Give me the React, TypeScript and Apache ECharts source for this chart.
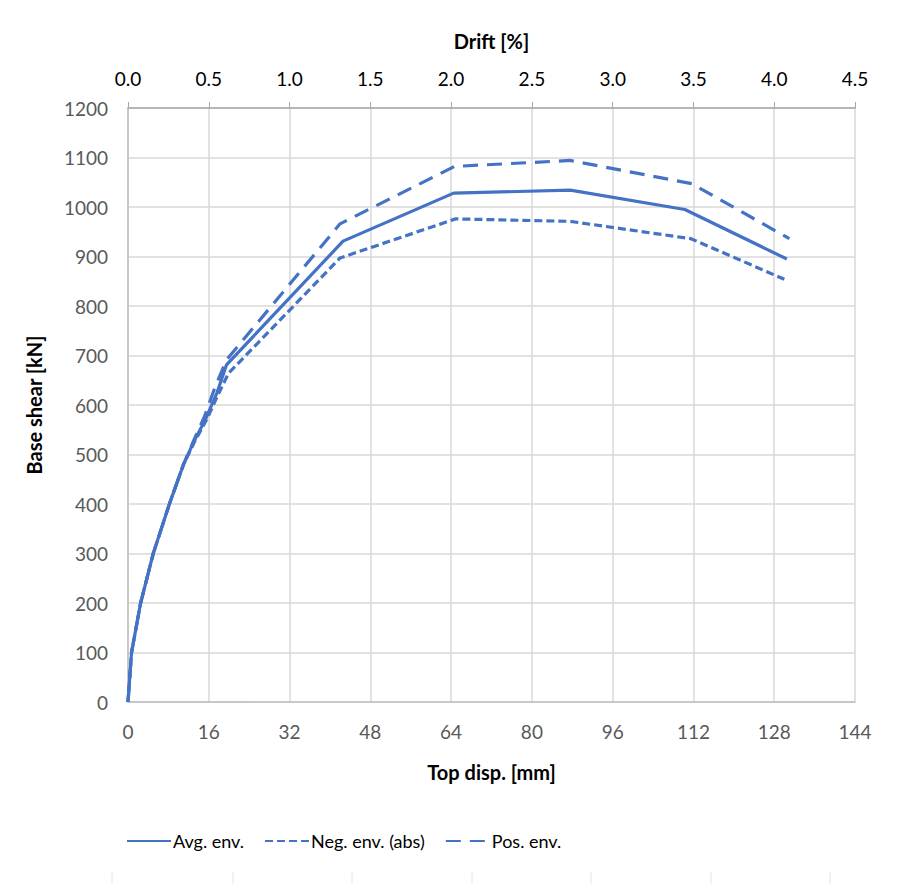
import React, { useEffect, useRef } from "react";
import * as echarts from "echarts";

const avgEnv: [number, number][] = [
  [0, 0], [0.7, 100], [2.5, 200], [5, 300], [8.2, 400], [11, 480], [13, 525],
  [15.3, 570], [17.6, 624], [19.5, 681], [42.6, 931], [64.5, 1028], [87.6, 1034],
  [110.3, 995], [130.5, 895],
];
const negEnv: [number, number][] = [
  [0, 0], [0.7, 100], [2.5, 200], [5, 300], [8.2, 400], [11, 480], [13, 522],
  [15.8, 575], [17.8, 620], [19.9, 664], [42, 897], [64.9, 976], [87.6, 971],
  [111.5, 936], [130, 854],
];
const posEnv: [number, number][] = [
  [0, 0], [0.7, 100], [2.5, 200], [5, 300], [8.2, 400], [11, 480], [13, 528],
  [15.2, 578], [17.2, 635], [19.5, 691], [42, 966], [64.7, 1082], [87.6, 1094],
  [111.7, 1047], [131, 936],
];
const seriesNames = ["Avg. env.", "Neg. env. (abs)", "Pos. env."];

const BLUE = "#4472C4";
const GRID = "#d9d9d9";
const FONT = "Lato, 'Noto Sans', sans-serif";

export default function App() {
  const ref = useRef<HTMLDivElement>(null);
  useEffect(() => {
    if (!ref.current) return;
    const chart = echarts.init(ref.current, null, { renderer: "svg" });
    const decoTicks = [112, 233, 352, 472, 591, 711, 830].map((x) => ({
      type: "line",
      shape: { x1: x, y1: 872, x2: x, y2: 884 },
      style: { stroke: "#e6e6e6", lineWidth: 1 },
    }));
    chart.setOption({
      animation: false,
      backgroundColor: "#ffffff",
      textStyle: { fontFamily: FONT },
      grid: { left: 128, right: 45, top: 108, bottom: 184 },
      legend: {
        data: seriesNames,
        top: 827,
        left: 121,
        itemWidth: 44,
        itemHeight: 14,
        itemGap: 20,
        itemStyle: { color: "transparent", borderWidth: 0 },
        textStyle: { fontSize: 18, color: "#000", fontFamily: FONT, padding: [0, 0, 0, -3] },
      },
      xAxis: [
        {
          type: "value",
          min: 0,
          max: 144,
          interval: 16,
          position: "bottom",
          name: "Top disp. [mm]",
          nameLocation: "middle",
          nameGap: 60,
          nameTextStyle: { fontSize: 20, fontWeight: "bold", color: "#000", fontFamily: FONT },
          axisLine: { show: true, lineStyle: { color: "#bfbfbf", width: 1.5 } },
          axisTick: { show: false },
          axisLabel: { fontSize: 19, color: "#595959", margin: 20, fontFamily: FONT },
          splitLine: { show: true, lineStyle: { color: GRID, width: 1.5 } },
        },
        {
          type: "value",
          min: 0,
          max: 4.5,
          interval: 0.5,
          position: "top",
          name: "Drift [%]",
          nameLocation: "middle",
          nameGap: 57,
          nameTextStyle: { fontSize: 20, fontWeight: "bold", color: "#000", fontFamily: FONT },
          axisLine: { show: true, onZero: false, lineStyle: { color: "#a6a6a6", width: 1.5 } },
          axisTick: { show: true, inside: false, length: 6, lineStyle: { color: "#a6a6a6" } },
          axisLabel: {
            fontSize: 19,
            color: "#000",
            margin: 20,
            fontFamily: FONT,
            formatter: (v: number) => v.toFixed(1),
          },
          splitLine: { show: false },
        },
      ],
      yAxis: {
        type: "value",
        min: 0,
        max: 1200,
        interval: 100,
        name: "Base shear [kN]",
        nameLocation: "middle",
        nameGap: 84,
        nameTextStyle: { fontSize: 20, fontWeight: "bold", color: "#000", fontFamily: FONT },
        axisLine: { show: true, lineStyle: { color: "#bfbfbf", width: 1.5 } },
        axisTick: { show: false },
        axisLabel: {
          fontSize: 19,
          color: "#595959",
          margin: 20,
          fontFamily: FONT,
          formatter: (v: number) => String(v),
        },
        splitLine: { show: true, lineStyle: { color: GRID, width: 1.5 } },
      },
      series: [
        {
          name: seriesNames[0],
          type: "line",
          xAxisIndex: 0,
          data: avgEnv,
          symbol: "none",
          lineStyle: { color: BLUE, width: 3.2 },
          itemStyle: { color: BLUE },
        },
        {
          name: seriesNames[1],
          type: "line",
          xAxisIndex: 0,
          data: negEnv,
          symbol: "none",
          lineStyle: { color: BLUE, width: 3.2, type: [8, 4] },
          itemStyle: { color: BLUE },
        },
        {
          name: seriesNames[2],
          type: "line",
          xAxisIndex: 0,
          data: posEnv,
          symbol: "none",
          lineStyle: { color: BLUE, width: 3.2, type: [15, 9] },
          itemStyle: { color: BLUE },
        },
      ],
      graphic: decoTicks,
    });
    return () => chart.dispose();
  }, []);
  return (
    <div
      ref={ref}
      style={{ position: "absolute", left: 0, top: 0, width: 900, height: 886 }}
    />
  );
}
